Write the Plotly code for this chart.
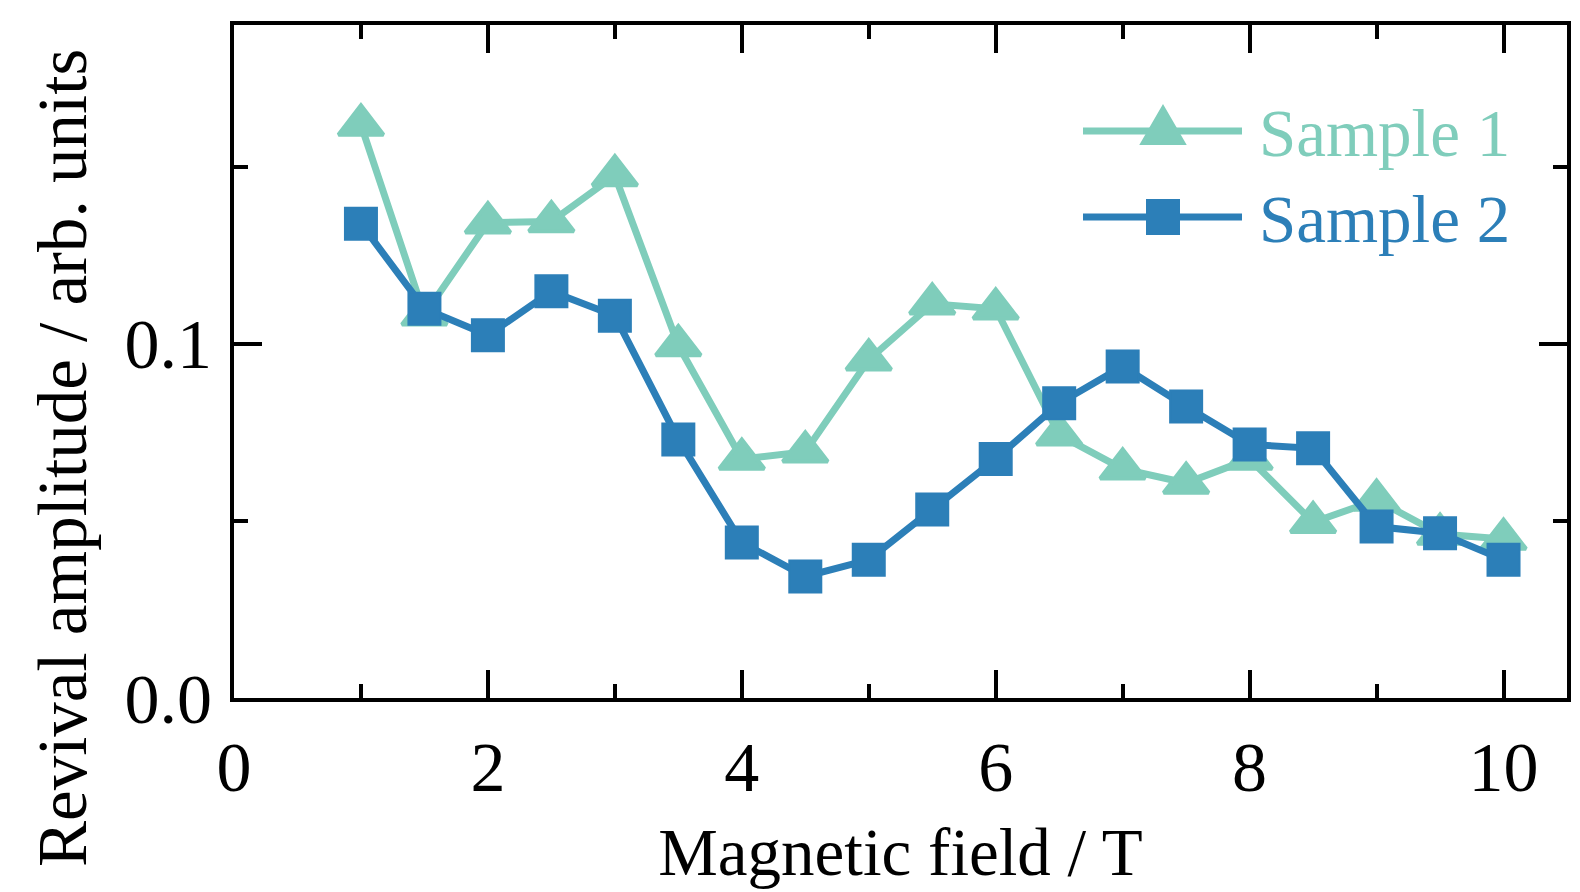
import plotly.graph_objects as go

# ---- data ----
field = [1, 1.5, 2, 2.5, 3, 3.5, 4, 4.5, 5, 5.5, 6, 6.5, 7, 7.5, 8, 8.5, 9, 9.5, 10]
sample1 = [0.1618, 0.1082, 0.1342, 0.1345, 0.1475, 0.0995, 0.0675, 0.0695, 0.0955, 0.1113,
           0.1099, 0.0743, 0.0647, 0.0607, 0.0675, 0.0496, 0.0559, 0.0463, 0.0449]
sample2 = [0.1339, 0.1099, 0.1024, 0.1148, 0.1079, 0.0730, 0.0439, 0.0343, 0.0390, 0.0532,
           0.0675, 0.0832, 0.0936, 0.0823, 0.0716, 0.0705, 0.0484, 0.0465, 0.0390]
names = ["Sample 1", "Sample 2"]
colors = ["#7fcdbb", "#2c7fb8"]
x_ticks = [0, 2, 4, 6, 8, 10]
y_ticks = [0.0, 0.1]
x_title = "Magnetic field / T"
y_title = "Revival amplitude / arb. units"

FONT = "Liberation Serif, Times New Roman, serif"

W, H = 1580, 892
L, R, T, B = 234, 1567, 25, 698  # plot area in pixels

fig = go.Figure()
fig.add_trace(go.Scatter(x=field, y=sample1, name=names[0], mode="lines+markers",
                         line=dict(color=colors[0], width=7),
                         marker=dict(symbol="triangle-up", size=39, color=colors[0],
                                     line=dict(color=colors[0], width=4)),
                         showlegend=False))
fig.add_trace(go.Scatter(x=field, y=sample2, name=names[1], mode="lines+markers",
                         line=dict(color=colors[1], width=7),
                         marker=dict(symbol="square", size=32, color=colors[1],
                                     line=dict(color=colors[1], width=2)),
                         showlegend=False))

def px(xp):
    return (xp - L) / (R - L)

def py(yp):
    return (B - yp) / (B - T)

# ---- custom legend (layout decoration) ----
shapes = []
annotations = []
rows = [131, 217]
for i, (nm, c) in enumerate(zip(names, colors)):
    yc = rows[i]
    shapes.append(dict(type="line", xref="paper", yref="paper",
                       x0=px(1083), x1=px(1242), y0=py(yc), y1=py(yc),
                       line=dict(color=c, width=7), layer="above"))
    cx = 1163
    if i == 0:
        path = "M {},{} L {},{} L {},{} Z".format(px(cx), py(yc - 25), px(cx - 22), py(yc + 13),
                                                 px(cx + 22), py(yc + 13))
    else:
        path = "M {},{} L {},{} L {},{} L {},{} Z".format(px(cx - 16), py(yc - 17), px(cx + 16), py(yc - 17),
                                                        px(cx + 16), py(yc + 17), px(cx - 16), py(yc + 17))
    shapes.append(dict(type="path", xref="paper", yref="paper", path=path,
                       fillcolor=c, line=dict(color=c, width=2), layer="above"))
    annotations.append(dict(xref="paper", yref="paper", x=px(1257), y=py(yc + 2),
                            xanchor="left", yanchor="middle", showarrow=False,
                            text=nm, font=dict(family=FONT, size=67, color=c)))

# y-axis title (placed as rotated text to match reference offset)
annotations.append(dict(xref="paper", yref="paper", x=px(63), y=py(458),
                        xanchor="center", yanchor="middle", showarrow=False, textangle=-90,
                        text=y_title, font=dict(family=FONT, size=69, color="black")))

fig.update_layout(
    width=W, height=H,
    margin=dict(l=L, r=W - R, t=T, b=H - B, autoexpand=False),
    paper_bgcolor="white", plot_bgcolor="white",
    font=dict(family=FONT, size=66, color="black"),
    shapes=shapes, annotations=annotations,
    xaxis=dict(range=[0, 10.5], tickvals=x_ticks, ticktext=[str(v) for v in x_ticks],
               ticks="inside", ticklen=28, tickwidth=4, tickcolor="black",
               minor=dict(dtick=1, tick0=0, ticks="inside", ticklen=14, tickwidth=4, tickcolor="black"),
               showline=True, linewidth=4, linecolor="black", mirror="ticks",
               showgrid=False, zeroline=False, ticklabelstandoff=5,
               tickfont=dict(family=FONT, size=70),
               title=dict(text=x_title, font=dict(family=FONT, size=67), standoff=24)),
    yaxis=dict(range=[0, 0.19], tickvals=y_ticks, ticktext=["0.0", "0.1"],
               ticks="inside", ticklen=28, tickwidth=4, tickcolor="black",
               minor=dict(dtick=0.05, tick0=0, ticks="inside", ticklen=14, tickwidth=4, tickcolor="black"),
               showline=True, linewidth=4, linecolor="black", mirror="ticks",
               showgrid=False, zeroline=False, ticklabelstandoff=4,
               tickfont=dict(family=FONT, size=70)),
)

fig.write_html("out.html")
